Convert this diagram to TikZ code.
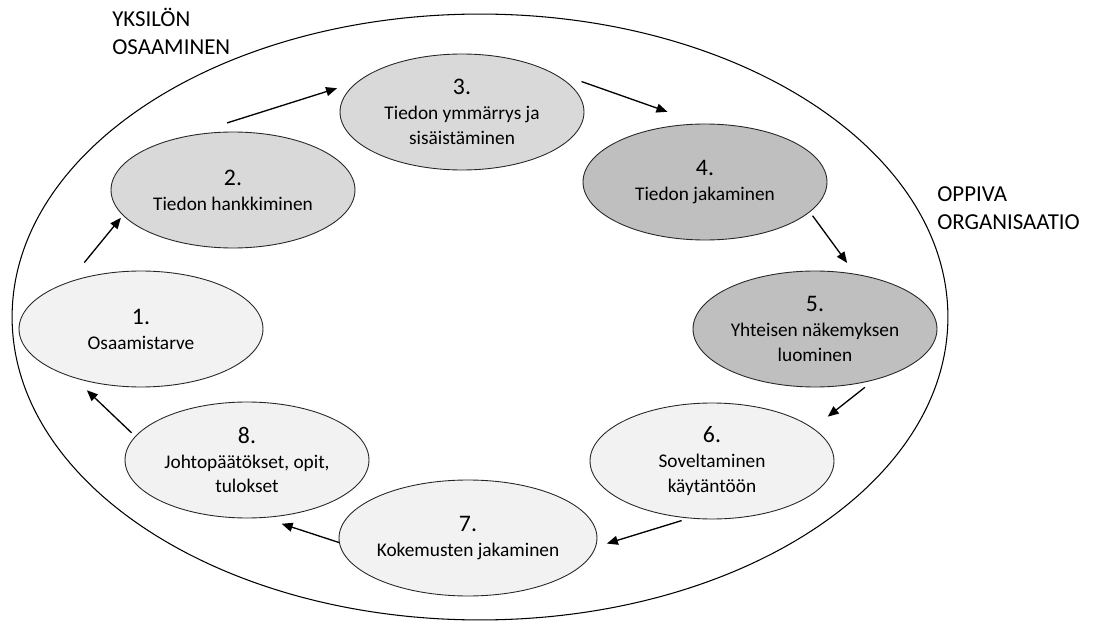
\documentclass[tikz,border=0pt]{standalone}
\usepackage{fontspec}
\setmainfont{Carlito}
\usepackage{tikz}
\usetikzlibrary{arrows.meta, shapes.geometric}

\definecolor{palegray}{HTML}{F2F2F2}
\definecolor{midgray}{HTML}{D9D9D9}
\definecolor{darkgray}{HTML}{BFBFBF}

\newcommand{\stepno}[1]{{\fontsize{13.5}{16}\selectfont #1}}

\begin{document}
\begin{tikzpicture}[x=0.02cm, y=-0.02cm,
    phase/.style={ellipse, draw=black!85, line width=0.5pt, minimum width=4.88cm, minimum height=2.32cm, inner sep=0pt, align=center, font=\fontsize{11}{14.2}\selectfont},
    flow/.style={-{Triangle[length=2.2mm, width=1.8mm]}, line width=0.75pt},
    outer/.style={anchor=west, align=left, inner sep=0pt, font=\fontsize{13}{16}\selectfont}]
        \useasboundingbox (0, 0) rectangle (1093, 625);

        \node[ellipse, draw, line width=0.6pt, minimum width=18.72cm, minimum height=12.12cm] at (480, 317) (org) {};

        \node[phase, fill=palegray] at (141, 329) (n1) {\stepno{1.}\\Osaamistarve};
        \node[phase, fill=midgray]  at (233, 190) (n2) {\stepno{2.}\\Tiedon hankkiminen};
        \node[phase, fill=midgray]  at (462, 112) (n3) {\stepno{3.}\\Tiedon ymmärrys ja\\sisäistäminen};
        \node[phase, fill=darkgray] at (705, 182) (n4) {\stepno{4.}\\Tiedon jakaminen};
        \node[phase, fill=darkgray] at (815, 329) (n5) {\stepno{5.}\\Yhteisen näkemyksen\\luominen};
        \node[phase, fill=palegray] at (712, 461) (n6) {\stepno{6.}\\Soveltaminen\\käytäntöön};
        \node[phase, fill=palegray] at (468, 538) (n7) {\stepno{7.}\\Kokemusten jakaminen};
        \node[phase, fill=palegray] at (247, 460) (n8) {\stepno{8.}\\Johtopäätökset, opit,\\tulokset};

        \draw [flow, shorten <=0.50cm, shorten >=0.06cm] (n1.147) -- (n2.193);
        \draw [flow, shorten <=0.89cm, shorten >=0.42cm] (n2.132) -- (n3.164);
        \draw [flow, shorten <=0.92cm, shorten >=0.71cm] (n3.31) -- (n4.94);
        \draw [flow, shorten <=0.09cm, shorten >=0.27cm] (n4.344) -- (n5.54);
        \draw [flow, shorten <=0.23cm, shorten >=0.37cm] (n5.319) -- (n6.18);
        \draw [flow, shorten <=0.15cm, shorten >=0.23cm] (n6.248) -- (n7.356);
        \draw [flow, shorten >=0.38cm] (n7.182) -- (n8.286);
        \draw [flow, shorten <=0.10cm, shorten >=0.36cm] (n8.168) -- (n1.216);

        \node[outer] at (112, 31) (yksilo) {YKSILÖN\\OSAAMINEN};
        \node[outer] at (937, 208) (oppiva) {OPPIVA\\ORGANISAATIO};
\end{tikzpicture}
\end{document}
